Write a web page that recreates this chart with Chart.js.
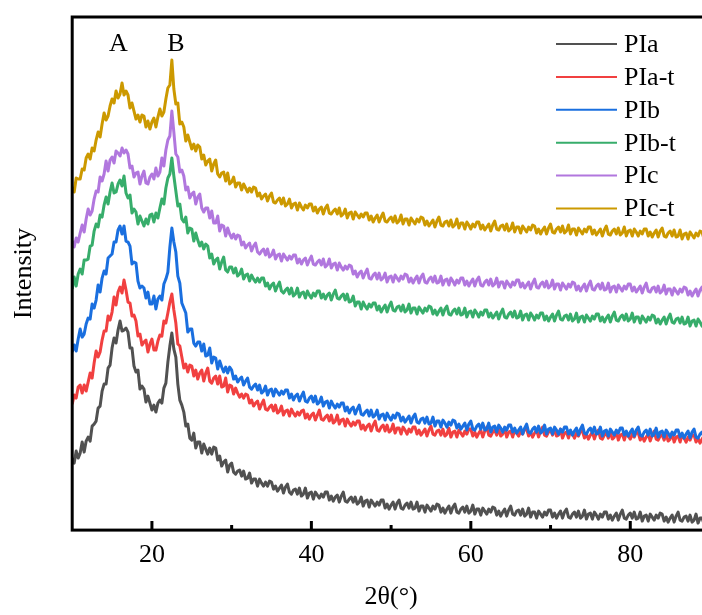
<!DOCTYPE html>
<html>
<head>
<meta charset="utf-8">
<title>XRD</title>
<script src="https://cdn.jsdelivr.net/npm/chart.js@4.4.1/dist/chart.umd.min.js"></script>
<style>
  html, body { margin: 0; padding: 0; background: #fff; overflow: hidden; }
  #wrap { position: relative; width: 712px; height: 615px; }
</style>
</head>
<body>
<div id="wrap"><canvas id="xrd"></canvas></div>
<script>
// 2θ (degrees), step 0.25
const twoTheta = [
  10,10.25,10.5,10.75,11,11.25,11.5,11.75,12,12.25,12.5,12.75,13,13.25,13.5,13.75,14,14.25,14.5,14.75,
  15,15.25,15.5,15.75,16,16.25,16.5,16.75,17,17.25,17.5,17.75,18,18.25,18.5,18.75,19,19.25,19.5,19.75,
  20,20.25,20.5,20.75,21,21.25,21.5,21.75,22,22.25,22.5,22.75,23,23.25,23.5,23.75,24,24.25,24.5,24.75,
  25,25.25,25.5,25.75,26,26.25,26.5,26.75,27,27.25,27.5,27.75,28,28.25,28.5,28.75,29,29.25,29.5,29.75,
  30,30.25,30.5,30.75,31,31.25,31.5,31.75,32,32.25,32.5,32.75,33,33.25,33.5,33.75,34,34.25,34.5,34.75,
  35,35.25,35.5,35.75,36,36.25,36.5,36.75,37,37.25,37.5,37.75,38,38.25,38.5,38.75,39,39.25,39.5,39.75,
  40,40.25,40.5,40.75,41,41.25,41.5,41.75,42,42.25,42.5,42.75,43,43.25,43.5,43.75,44,44.25,44.5,44.75,
  45,45.25,45.5,45.75,46,46.25,46.5,46.75,47,47.25,47.5,47.75,48,48.25,48.5,48.75,49,49.25,49.5,49.75,
  50,50.25,50.5,50.75,51,51.25,51.5,51.75,52,52.25,52.5,52.75,53,53.25,53.5,53.75,54,54.25,54.5,54.75,
  55,55.25,55.5,55.75,56,56.25,56.5,56.75,57,57.25,57.5,57.75,58,58.25,58.5,58.75,59,59.25,59.5,59.75,
  60,60.25,60.5,60.75,61,61.25,61.5,61.75,62,62.25,62.5,62.75,63,63.25,63.5,63.75,64,64.25,64.5,64.75,
  65,65.25,65.5,65.75,66,66.25,66.5,66.75,67,67.25,67.5,67.75,68,68.25,68.5,68.75,69,69.25,69.5,69.75,
  70,70.25,70.5,70.75,71,71.25,71.5,71.75,72,72.25,72.5,72.75,73,73.25,73.5,73.75,74,74.25,74.5,74.75,
  75,75.25,75.5,75.75,76,76.25,76.5,76.75,77,77.25,77.5,77.75,78,78.25,78.5,78.75,79,79.25,79.5,79.75,
  80,80.25,80.5,80.75,81,81.25,81.5,81.75,82,82.25,82.5,82.75,83,83.25,83.5,83.75,84,84.25,84.5,84.75,
  85,85.25,85.5,85.75,86,86.25,86.5,86.75,87,87.25,87.5,87.75,88,88.25,88.5,88.75,89,89.25,89.5,89.75,
  90
];

// intensities (curves stacked, arbitrary units)
const PIa = [
  72,67,79,72, 77,88,78,89, 93,89,104,106, 109,122,124,139, 146,146,162,165,
  182,192,187,200, 209,199,200,202, 198,182,182,164, 158,160,141,144, 141,128,134,127,
  120,125,118,127, 130,127,142,147, 168,184,197,181, 173,146,130,125, 118,104,106,92,
  90,97,82,88, 88,77,86,81, 76,82,76,83, 82,70,74,64, 68,70,58,65,
  67,58,56,59, 60,54,59,51, 52,57,47,51, 51,44,51,47, 44,48,44,49,
  48,41,44,39, 42,45,37,43, 46,38,36,40, 41,36,42,34, 36,42,32,37,
  38,31,38,35, 32,36,33,38, 38,30,34,29, 33,35,28,34, 38,29,28,31,
  33,28,33,26, 28,33,24,29, 30,23,30,27, 24,28,25,30, 30,22,26,21,
  25,28,21,27, 30,22,21,25, 27,22,28,21, 22,28,19,24, 24,18,25,22,
  19,24,21,26, 25,18,22,17, 21,24,17,23, 26,18,17,21, 23,18,24,17,
  19,25,16,21, 21,15,22,19, 16,21,18,23, 22,15,19,14, 18,21,14,20,
  24,16,15,19, 20,15,21,14, 16,22,13,18, 18,12,19,16, 13,18,15,20,
  20,13,17,12, 16,19,12,18, 21,13,12,16, 18,13,19,12, 14,20,11,16,
  17,11,18,15, 11,16,13,18, 18,11,15,10, 14,17,10,16, 20,12,11,15,
  17,12,18,11, 12,18,9,14, 15,9,16,13, 10,15,12,17, 16,9,13,8,
  12,15,8,14, 18,10,9,13, 14,9,15,8, 10,16,7,12, 12,6,13,10,
  11
];
const PIa_t = [
  126,135,132,143, 145,137,145,139, 148,157,152,167, 179,173,178,190, 199,199,214,210,
  218,233,225,238, 243,237,250,240, 228,227,214,215, 209,194,196,185, 188,190,178,186,
  191,180,180,189, 195,194,209,207, 217,228,236,220, 207,186,184,173, 162,166,158,165,
  164,154,160,151, 157,160,149,157, 162,149,147,152, 154,146,154,143, 144,152,138,145,
  144,136,142,137, 133,136,132,136, 135,127,130,124, 127,129,121,126, 130,121,120,123,
  125,119,125,117, 119,124,115,119, 120,114,121,117, 114,118,115,119, 120,112,116,111,
  115,117,110,115, 120,111,110,113, 115,109,115,107, 109,115,106,110, 111,104,111,107,
  104,108,105,109, 109,101,105,100, 104,106,99,105, 109,100,99,103, 105,99,105,98,
  100,106,97,102, 102,96,103,100, 96,101,98,103, 103,96,100,95, 98,101,94,100,
  104,96,95,99, 100,95,101,94, 96,102,93,98, 99,93,100,97, 94,99,96,101,
  101,94,98,93, 97,100,93,99, 103,95,94,98, 100,95,101,94, 96,102,93,98,
  99,93,100,97, 94,99,96,101, 101,94,98,93, 97,100,93,99, 103,95,94,98,
  100,95,101,94, 95,101,92,97, 98,92,99,96, 92,97,94,99, 99,92,96,91,
  95,98,91,97, 100,92,91,95, 97,92,98,91, 93,99,90,95, 96,90,97,94,
  91,96,93,98, 97,90,94,89, 93,96,89,95, 99,91,90,94, 95,90,96,89,
  91,97,88,93, 94,88,95,92, 88,93,90,95, 95,88,92,87, 91,94,87,93,
  90
];
const PIb = [
  178,185,179,191, 201,193,196,206, 212,211,226,222, 230,245,238,252, 259,256,272,274,
  276,288,288,300, 304,296,304,289, 288,284,266,268, 267,249,242,244, 242,232,238,226,
  226,234,221,231, 234,230,246,251, 258,283,302,288, 278,254,247,227, 222,217,198,201,
  201,187,184,188, 188,179,186,174, 175,182,167,173, 172,161,169,163, 158,163,157,163,
  160,151,154,148, 151,153,145,149, 152,143,141,144, 146,140,145,137, 139,144,135,140,
  141,134,141,138, 135,139,136,140, 140,132,136,130, 134,136,129,134, 138,129,128,132,
  134,128,134,126, 128,133,124,128, 129,122,129,125, 122,126,123,127, 127,119,123,117,
  121,123,116,121, 125,116,115,118, 120,114,120,113, 115,120,111,115, 116,110,117,113,
  110,115,112,117, 116,109,113,108, 111,114,107,113, 116,108,107,111, 112,107,113,106,
  107,113,104,109, 109,103,110,107, 103,108,105,110, 109,102,106,101, 104,107,100,106,
  109,101,100,104, 106,101,107,100, 101,107,98,103, 104,98,105,102, 98,103,100,105,
  105,98,102,97, 100,103,96,102, 106,98,97,101, 103,98,104,97, 99,105,96,101,
  102,96,103,100, 96,101,98,103, 103,96,100,95, 99,102,95,101, 105,97,96,100,
  102,97,103,96, 97,103,94,99, 100,94,101,98, 95,100,97,102, 102,95,99,94,
  98,101,94,100, 103,95,94,98, 100,95,101,94, 96,102,93,98, 99,93,100,97,
  93,98,95,100, 100,93,97,92, 96,99,92,98, 101,93,92,96, 98,93,99,92,
  96
];
const PIb_t = [
  241,253,244,256, 261,256,270,270, 271,284,285,299, 306,303,315,313, 325,333,326,338,
  347,337,338,346, 350,344,354,337, 332,335,317,321, 318,306,314,309, 304,311,306,315,
  316,308,317,312, 322,331,326,342, 352,356,372,354, 339,324,326,311, 308,313,297,302,
  301,289,297,290, 284,288,281,286, 284,272,276,266, 270,272,261,268, 273,260,258,263,
  263,257,262,254, 256,261,251,255, 256,249,255,251, 248,252,248,252, 252,244,247,241,
  245,247,239,244, 248,239,237,240, 242,236,242,234, 236,242,233,237, 238,232,239,235,
  232,237,234,239, 239,232,236,231, 235,237,230,236, 240,232,231,234, 236,230,236,228,
  229,234,224,228, 228,221,228,224, 221,226,223,227, 227,220,224,218, 222,225,218,224,
  228,220,219,223, 224,219,225,218, 220,226,217,222, 222,216,223,220, 217,222,219,224,
  223,216,220,215, 219,222,215,221, 224,216,215,219, 221,216,222,215, 216,222,213,218,
  219,213,220,217, 213,218,215,220, 220,213,217,212, 215,218,211,217, 221,213,212,216,
  218,213,219,212, 213,219,210,215, 216,210,217,214, 210,215,212,217, 217,210,214,209,
  213,216,209,215, 219,211,210,214, 215,210,216,209, 211,217,208,213, 214,208,215,212,
  209,214,211,216, 216,209,213,208, 212,215,208,214, 218,210,209,213, 215,210,216,209,
  211,217,208,213, 213,207,214,211, 208,213,210,215, 214,207,211,206, 210,213,206,212,
  216,208,207,211, 212,207,213,206, 207,213,204,209, 210,204,211,208, 204,209,206,211,
  207
];
const PIc = [
  289,283,292,288, 297,305,298,311, 321,315,319,331, 339,338,353,349, 356,369,359,370,
  373,367,379,377, 374,382,377,380, 376,362,364,353, 357,358,346,354, 359,347,346,353,
  356,351,362,354, 358,372,364,380, 390,394,419,398, 376,373,358,360, 354,340,343,332,
  336,338,326,333, 336,322,318,322, 322,312,319,307, 307,314,299,305, 304,294,302,296,
  292,296,291,295, 294,285,288,282, 285,287,279,284, 287,278,276,279, 281,275,281,273,
  275,280,271,275, 276,269,276,273, 270,274,271,275, 275,267,271,266, 270,272,265,270,
  274,266,265,268, 270,265,271,263, 265,271,262,266, 267,260,267,263, 260,264,261,265,
  264,256,259,253, 257,259,252,257, 261,252,251,255, 257,251,257,250, 252,257,248,253,
  254,248,255,252, 249,254,251,256, 255,248,252,247, 251,254,247,253, 256,248,247,251,
  253,248,254,247, 248,254,245,250, 251,245,252,249, 245,250,247,252, 252,245,249,244,
  248,251,244,250, 253,245,244,248, 250,245,251,244, 246,252,243,248, 248,242,249,246,
  243,248,245,250, 250,243,247,242, 245,248,241,247, 251,243,242,246, 248,243,249,242,
  244,250,241,246, 246,240,247,244, 241,246,243,248, 247,240,244,239, 243,246,239,245,
  249,241,240,244, 246,241,247,240, 241,247,238,243, 244,238,245,242, 239,244,241,246,
  246,239,243,238, 241,244,237,243, 247,239,238,242, 243,238,244,237, 239,245,236,241,
  241,235,242,239, 236,241,238,243, 242,235,239,234, 238,241,234,240, 243,235,234,238,
  238
];
const PIc_t = [
  343,338,352,351, 351,361,360,372, 376,371,382,379, 390,398,393,406, 417,410,414,424,
  431,427,439,432, 436,447,435,439, 435,422,427,419, 411,415,408,415, 414,403,409,401,
  408,412,403,413, 421,414,418,431, 442,445,470,441, 426,427,406,408, 403,389,395,388,
  381,386,379,385, 383,371,375,365, 369,371,359,366, 370,356,353,357, 358,349,357,346,
  348,353,343,347, 347,340,346,342, 338,342,338,343, 342,334,337,331, 334,336,329,334,
  337,328,327,330, 332,326,332,324, 326,331,322,326, 327,320,327,323, 320,325,322,326,
  326,319,323,317, 321,323,316,322, 325,317,316,319, 321,316,322,314, 316,321,312,317,
  318,311,318,315, 312,316,313,317, 317,310,314,308, 312,315,308,313, 317,309,308,311,
  313,308,314,307, 309,315,306,311, 311,305,312,309, 306,311,308,313, 312,305,309,304,
  307,310,303,309, 313,305,304,308, 309,304,310,303, 305,311,302,307, 307,301,308,305,
  301,306,303,308, 308,301,305,300, 303,306,299,305, 309,301,300,304, 305,300,306,299,
  301,307,298,303, 303,297,304,301, 298,303,300,305, 304,297,301,296, 300,303,296,302,
  306,298,297,301, 303,298,304,297, 299,305,296,301, 301,295,302,299, 296,301,298,303,
  303,296,300,295, 298,301,294,300, 304,296,295,299, 301,296,302,295, 297,303,294,299,
  300,294,301,298, 294,299,296,301, 301,294,298,293, 297,300,293,299, 302,294,293,297,
  299,294,300,293, 294,300,291,296, 297,291,298,295, 292,297,294,299, 298,291,295,290,
  295
];

const seriesNames = ['PIa', 'PIa-t', 'PIb', 'PIb-t', 'PIc', 'PIc-t'];
const seriesValues = [PIa, PIa_t, PIb, PIb_t, PIc, PIc_t];
const seriesColors = ['#515151', '#F14040', '#1A6FDF', '#37AD6B', '#B177DE', '#CC9900'];

const xTicks = [20, 40, 60, 80];
const xMinorTicks = [30, 50, 70];
const peakNames = ['A', 'B'];
const peakPos = [15.8, 23.0];
const peakLabelY = 486;

const serif = "'Liberation Serif', 'Times New Roman', serif";

// marco, ticks hacia dentro, etiquetas A/B y leyenda
const decorPlugin = {
  id: 'decor',
  afterDatasetsDraw(chart) {
    const { ctx, chartArea: a, scales: { x, y } } = chart;
    ctx.save();
    ctx.strokeStyle = '#000';
    ctx.lineWidth = 3;
    ctx.strokeRect(a.left, a.top, a.right - a.left, a.bottom - a.top);

    ctx.beginPath();
    xTicks.forEach(v => {
      const px = x.getPixelForValue(v);
      ctx.moveTo(px, a.bottom);
      ctx.lineTo(px, a.bottom - 9);
    });
    xMinorTicks.forEach(v => {
      const px = x.getPixelForValue(v);
      ctx.moveTo(px, a.bottom);
      ctx.lineTo(px, a.bottom - 5);
    });
    ctx.stroke();

    ctx.fillStyle = '#000';
    ctx.font = '26px ' + serif;
    ctx.textAlign = 'center';
    ctx.textBaseline = 'middle';
    peakNames.forEach((t, i) => {
      ctx.fillText(t, x.getPixelForValue(peakPos[i]), y.getPixelForValue(peakLabelY));
    });

    // leyenda
    const lx = 556, rowY = 44, gap = 32.9;
    ctx.textAlign = 'left';
    seriesNames.forEach((name, i) => {
      const yy = rowY + i * gap;
      ctx.strokeStyle = seriesColors[i];
      ctx.lineWidth = 2;
      ctx.beginPath();
      ctx.moveTo(lx, yy);
      ctx.lineTo(lx + 61, yy);
      ctx.stroke();
      ctx.fillStyle = '#000';
      ctx.fillText(name, lx + 68, yy + 1);
    });
    ctx.restore();
  }
};

const config = {
  type: 'line',
  data: {
    datasets: seriesNames.map((name, i) => ({
      label: name,
      data: twoTheta.map((t, j) => ({ x: t, y: seriesValues[i][j] })),
      borderColor: seriesColors[i],
      borderWidth: 3,
      borderJoinStyle: 'round',
      pointRadius: 0,
      tension: 0,
      order: seriesNames.length - i
    }))
  },
  options: {
    responsive: true,
    maintainAspectRatio: false,
    animation: false,
    layout: { padding: { top: 17, right: 2, left: 0, bottom: 0 } },
    plugins: {
      legend: { display: false },
      tooltip: { enabled: false }
    },
    scales: {
      x: {
        type: 'linear',
        min: 10,
        max: 90,
        afterBuildTicks: s => { s.ticks = xTicks.map(v => ({ value: v })); },
        grid: { display: false, drawTicks: false },
        border: { display: false },
        ticks: { color: '#000', font: { family: serif, size: 26 }, padding: 9, maxRotation: 0 },
        title: {
          display: true, text: '2θ(°)', color: '#000',
          font: { family: serif, size: 26 }, padding: { top: 2, bottom: 2.5 }
        }
      },
      y: {
        min: 0,
        max: 513,
        ticks: { display: false },
        grid: { display: false, drawTicks: false },
        border: { display: false },
        title: {
          display: true, text: 'Intensity', color: '#000',
          font: { family: serif, size: 26 }, padding: { top: 9, bottom: 32 }
        }
      }
    }
  },
  plugins: [decorPlugin]
};

window.addEventListener('DOMContentLoaded', () => {
  const ctx = document.getElementById('xrd').getContext('2d');
  new Chart(ctx, config);
});
</script>
</body>
</html>
